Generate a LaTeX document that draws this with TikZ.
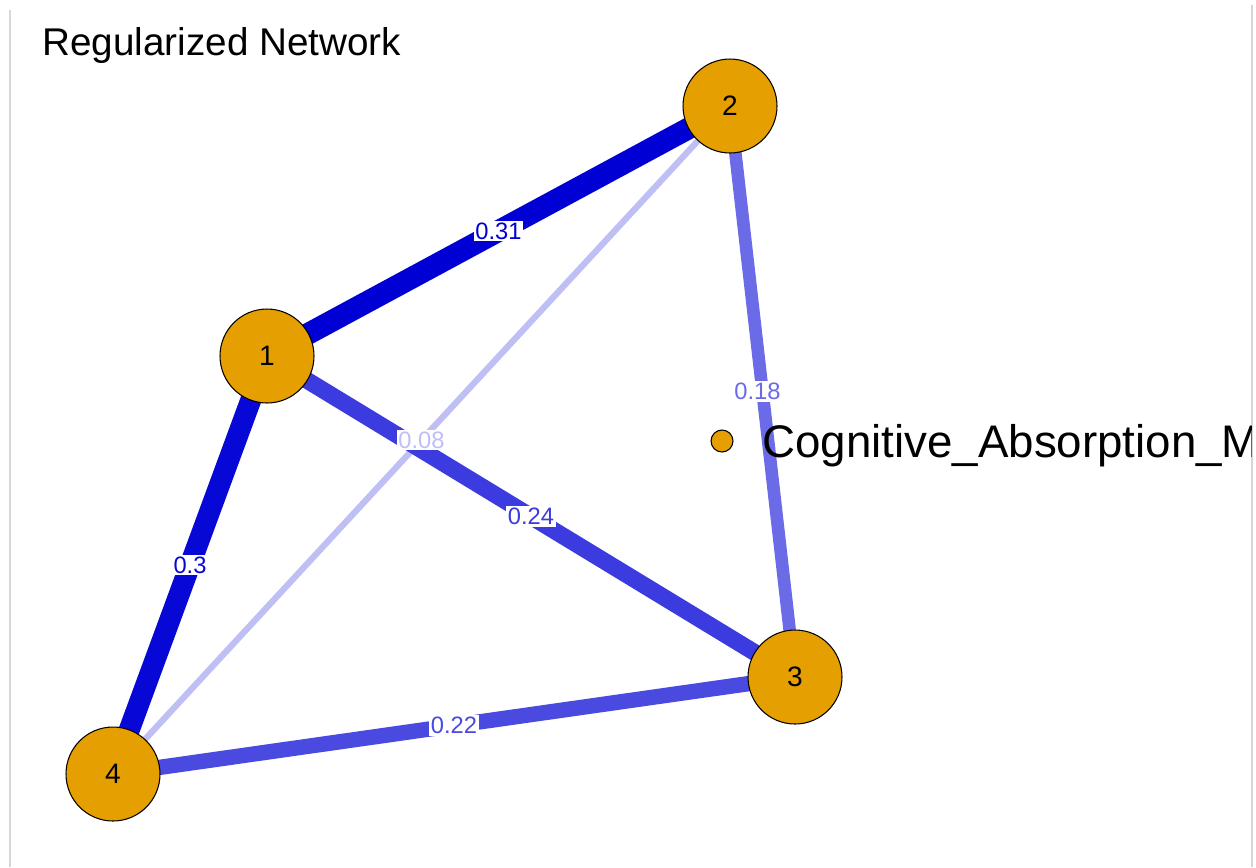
\documentclass[tikz,border=0pt]{standalone}
\usepackage{fontspec}
\setmainfont{Liberation Sans}
\definecolor{nodeorange}{RGB}{230,159,0}
\definecolor{edgeblue}{RGB}{0,0,213}
\definecolor{framegray}{RGB}{215,215,215}
\begin{document}
\begin{tikzpicture}[x=0.02cm, y=-0.02cm,
    vertex/.style = {circle, draw=black, line width=0.6pt, fill=nodeorange,
                     minimum size=1.88cm, inner sep=0pt, font=\fontsize{16}{18}\selectfont},
    weight/.style = {fill=white, inner sep=1pt, font=\fontsize{13.5}{15}\selectfont}]
    \useasboundingbox (0,0) rectangle (1256,867);
    % Frame lines
    \draw[framegray, line width=1pt] (10,10) -- (10,867);
    \draw[framegray, line width=1pt] (1252,5) -- (1252,867);

    % Node centres
    \coordinate (c1) at (267,356);
    \coordinate (c2) at (730,106);
    \coordinate (c3) at (795,677);
    \coordinate (c4) at (113,774);

    % Edges (width and shade follow the weight)
    \draw[edgeblue!25!white, line width=0.125cm] (c2) -- (c4);
    \draw[edgeblue!58!white, line width=0.252cm] (c2) -- (c3);
    \draw[edgeblue!71!white, line width=0.308cm] (c4) -- (c3);
    \draw[edgeblue!77!white, line width=0.336cm] (c1) -- (c3);
    \draw[edgeblue!97!white, line width=0.420cm] (c1) -- (c4);
    \draw[edgeblue, line width=0.434cm] (c1) -- (c2);

    % Edge weights
    \path (c1) -- node[weight, text=edgeblue] (w12) {0.31} (c2);
    \path (c1) -- node[weight, text=edgeblue!97!white] (w14) {0.3} (c4);
    \path (c1) -- node[weight, text=edgeblue!77!white] (w13) {0.24} (c3);
    \path (c4) -- node[weight, text=edgeblue!71!white] (w43) {0.22} (c3);
    \path (c2) -- node[weight, text=edgeblue!58!white, xshift=-0.1cm] (w23) {0.18} (c3);
    \path (c2) -- node[weight, text=edgeblue!25!white] (w24) {0.08} (c4);

    % Nodes
    \node[vertex] (n1) at (c1) {1};
    \node[vertex] (n2) at (c2) {2};
    \node[vertex] (n3) at (c3) {3};
    \node[vertex] (n4) at (c4) {4};

    % Title
    \node[anchor=base west, inner sep=0pt, font=\fontsize{22}{26}\selectfont] (title) at (42,55) {Regularized Network};

    % Legend (cut off at the right frame)
    \begin{scope}
        \clip (0,0) rectangle (1251,867);
        \node[circle, draw=black, line width=0.6pt, fill=nodeorange, minimum size=0.44cm, inner sep=0pt] (key) at (722,441) {};
        \node[anchor=base west, inner sep=0pt, font=\fontsize{26}{30}\selectfont] (keytext) at (762,457) {Cognitive\_Absorption\_Mindset};
    \end{scope}
\end{tikzpicture}
\end{document}
